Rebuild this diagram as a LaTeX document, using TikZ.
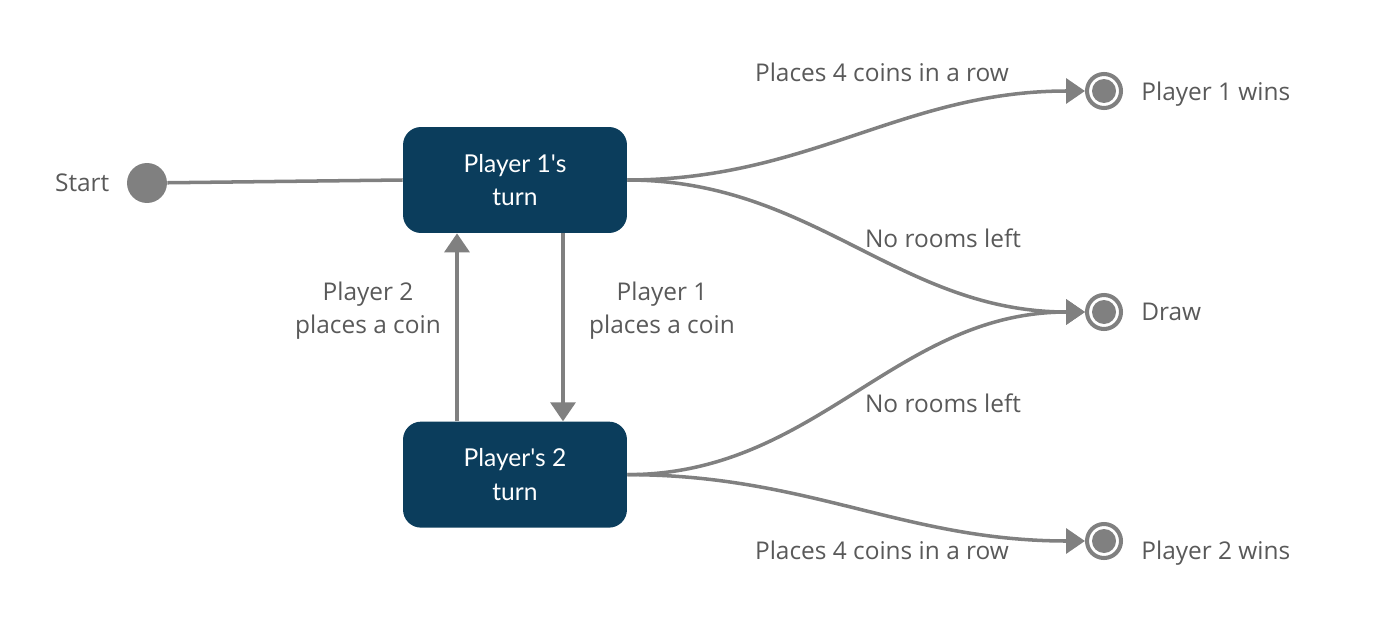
\documentclass[tikz,border=0pt]{standalone}
\usepackage{fontspec}
\setmainfont{Open Sans}
\newfontfamily\statefont{Lato}
\usepackage{tikz}
\usetikzlibrary{arrows.meta,positioning}

\definecolor{navy}{HTML}{0B3D5C}
\definecolor{linegray}{HTML}{808080}
\definecolor{textgray}{HTML}{595959}

\begin{document}
\begin{tikzpicture}[x=0.02cm, y=-0.02cm,
    state/.style={rectangle, rounded corners=0.36cm, fill=navy, text=white,
        minimum width=4.48cm, minimum height=2.12cm, align=center,
        font=\statefont\fontsize{14}{19}\selectfont},
    lbl/.style={text=textgray, align=center, inner sep=0pt,
        font=\fontsize{13.9}{18.8}\selectfont},
    endlbl/.style={lbl, text depth=0pt},
    link/.style={draw=linegray, line width=2pt},
    flow/.style={link, -{Triangle[length=0.38cm,width=0.5cm]}},
    final/.style={circle, draw=linegray, line width=2.3pt, fill=white,
        minimum size=0.68cm, inner sep=0pt,
        path picture={\fill[linegray] (path picture bounding box.center) circle (0.24cm);}}]

        \useasboundingbox (0,0) rectangle (1379,625);

        % States
        \node[state] (p1) at (515,180) {Player 1's\\turn};
        \node[state, below=3.76cm of p1] (p2) {Player's 2\\turn};

        % Start
        \node[circle, fill=linegray, minimum size=0.8cm, inner sep=0pt] (start) at (147,183) {};
        \node[lbl, left=0.34cm of start] (startlbl) {Start};

        % End states
        \node[final] (win1) at (1104,91) {};
        \node[final] (tie) at (1104,312) {};
        \node[final] (win2) at (1104,541) {};
        \node[endlbl, right=0.36cm of win1] (win1lbl) {Player 1 wins};
        \node[endlbl, right=0.36cm of tie] (tielbl) {Draw};
        \node[endlbl, right=0.36cm of win2, yshift=-0.18cm] (win2lbl) {Player 2 wins};

        % Transitions
        \draw[link] (start) -- (p1.west);
        \draw[flow] ([xshift=-1.16cm]p2.north) -- ([xshift=-1.16cm]p1.south);
        \draw[flow] ([xshift=0.96cm]p1.south) -- ([xshift=0.96cm]p2.north);
        \draw[flow] (p1.east) to[out=0, in=180] (win1.west);
        \draw[flow] (p1.east) to[out=0, in=180] (tie.west);
        \draw[flow] (p2.east) to[out=0, in=180] (tie.west);
        \draw[flow] (p2.east) to[out=0, in=180] (win2.west);

        % Labels
        \node[lbl] (l2move) at (368,311) {Player 2\\places a coin};
        \node[lbl] (l1move) at (662,311) {Player 1\\places a coin};
        \node[lbl] (l1row) at (882,72) {Places 4 coins in a row};
        \node[lbl] (l1full) at (943,238) {No rooms left};
        \node[lbl] (l2full) at (943,403) {No rooms left};
        \node[lbl] (l2row) at (882,550) {Places 4 coins in a row};
\end{tikzpicture}
\end{document}
